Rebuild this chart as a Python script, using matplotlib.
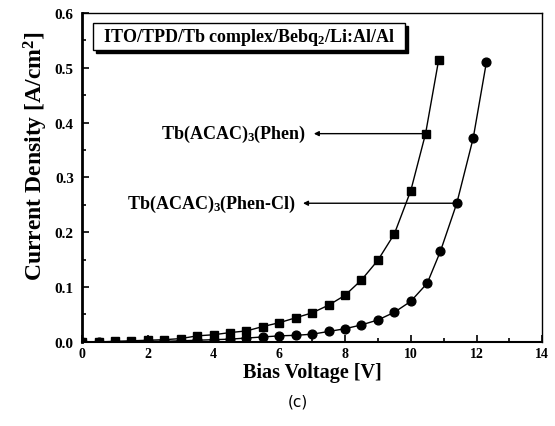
import matplotlib
matplotlib.use("Agg")
import matplotlib.pyplot as plt
from matplotlib.patches import Rectangle
from matplotlib.ticker import MultipleLocator

# Tb(ACAC)3(Phen) - squares
phen_v = [0, 0.5, 1, 1.5, 2, 2.5, 3, 3.5, 4, 4.5, 5, 5.5, 6, 6.5, 7, 7.5, 8, 8.5,
          9, 9.5, 10, 10.45, 10.85]
phen_j = [0, 0, 0.001, 0.002, 0.003, 0.004, 0.006, 0.011, 0.013, 0.017, 0.020,
          0.028, 0.035, 0.044, 0.053, 0.067, 0.085, 0.113, 0.149, 0.197, 0.276,
          0.380, 0.515]

# Tb(ACAC)3(Phen-Cl) - circles
phencl_v = [0, 0.5, 1, 1.5, 2, 2.5, 3, 3.5, 4, 4.5, 5, 5.5, 6, 6.5, 7, 7.5, 8,
            8.5, 9, 9.5, 10, 10.5, 10.9, 11.4, 11.9, 12.3]
phencl_j = [0, 0, 0, 0, 0.001, 0.001, 0.002, 0.003, 0.004, 0.005, 0.007, 0.009,
            0.011, 0.012, 0.014, 0.019, 0.024, 0.031, 0.040, 0.054, 0.074, 0.107,
            0.165, 0.253, 0.372, 0.510]

device = "ITO/TPD/Tb complex/Bebq$_2$/Li:Al/Al"
label_phen = "Tb(ACAC)$_3$(Phen)"
label_phencl = "Tb(ACAC)$_3$(Phen-Cl)"

plt.rcParams["font.family"] = "Liberation Serif"
plt.rcParams["font.weight"] = "bold"
plt.rcParams["mathtext.fontset"] = "custom"
plt.rcParams["mathtext.rm"] = "Liberation Serif:bold"
plt.rcParams["mathtext.it"] = "Liberation Serif:bold"

fig = plt.figure(figsize=(5.55, 4.27), dpi=100)
ax = fig.add_axes([0.148, 0.197, 0.829, 0.770])

ax.plot(phen_v, phen_j, "-s", color="black", lw=1.0, ms=5.5)
ax.plot(phencl_v, phencl_j, "-o", color="black", lw=1.0, ms=6.3)

ax.set_xlim(0, 14)
ax.set_ylim(0, 0.6)
ax.xaxis.set_major_locator(MultipleLocator(2))
ax.xaxis.set_minor_locator(MultipleLocator(1))
ax.yaxis.set_major_locator(MultipleLocator(0.1))
ax.yaxis.set_minor_locator(MultipleLocator(0.05))
ax.yaxis.set_major_formatter(plt.FormatStrFormatter("%.1f"))
ax.tick_params(which="both", direction="in", top=False, right=False, width=1.2)
ax.tick_params(which="major", length=5)
ax.tick_params(which="minor", length=3)
ax.tick_params(axis="y", pad=6, labelsize=11)
ax.tick_params(axis="x", pad=4, labelsize=10)
ax.spines["left"].set_linewidth(2)
ax.spines["bottom"].set_linewidth(1.5)
ax.spines["top"].set_linewidth(1)
ax.spines["right"].set_linewidth(1)

ax.set_xlabel("Bias Voltage [V]", fontsize=14.5, fontweight="bold", labelpad=1)
ax.set_ylabel("Current Density [A/cm$^2$]", fontsize=17, fontweight="bold")
ax.yaxis.set_label_coords(-0.07, 0.567)

# device structure box with shadow
dx, dy = 3 / 460, 3 / 330
ax.add_patch(Rectangle((0.024 + dx, 0.888 - dy), 0.678, 0.082,
                       transform=ax.transAxes, facecolor="black",
                       edgecolor="black", zorder=4))
ax.add_patch(Rectangle((0.024, 0.888), 0.678, 0.082, transform=ax.transAxes,
                       facecolor="white", edgecolor="black", lw=1, zorder=5))
ax.text(0.363, 0.929, device, transform=ax.transAxes, ha="center",
        va="center", fontsize=13, fontweight="bold", zorder=6)

# labels with arrows
ax.text(6.82, phen_j[-2], label_phen, ha="right", va="center", fontsize=13,
        fontweight="bold")
ax.annotate("", xy=(7.05, phen_j[-2]), xytext=(phen_v[-2], phen_j[-2]),
            arrowprops=dict(arrowstyle="-|>", color="black", lw=1,
                            mutation_scale=7, shrinkA=0, shrinkB=0))
ax.text(6.5, phencl_j[-3], label_phencl, ha="right", va="center", fontsize=13,
        fontweight="bold")
ax.annotate("", xy=(6.72, phencl_j[-3]), xytext=(phencl_v[-3], phencl_j[-3]),
            arrowprops=dict(arrowstyle="-|>", color="black", lw=1,
                            mutation_scale=7, shrinkA=0, shrinkB=0))

fig.text(0.537, 0.058, "(c)", ha="center", va="center", fontsize=11,
         family="DejaVu Sans", fontweight="normal")

fig.savefig("out.png", dpi=100)
